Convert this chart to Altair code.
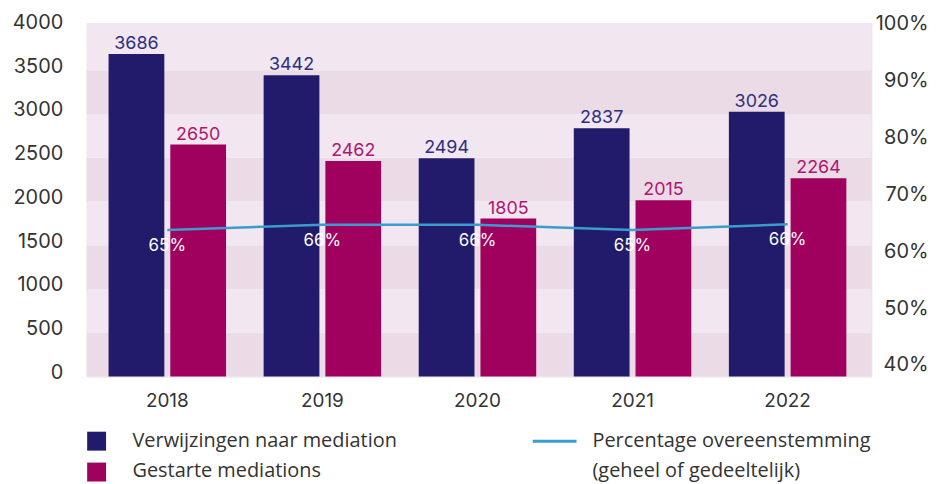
import altair as alt
import pandas as pd

# ---- data ----
years = ["2018", "2019", "2020", "2021", "2022"]
verwijzingen = [3686, 3442, 2494, 2837, 3026]
gestart = [2650, 2462, 1805, 2015, 2264]
pct = [64.4, 65.3, 65.3, 64.4, 65.4]
pct_labels = ["65%", "66%", "66%", "65%", "66%"]
series_names = ["Verwijzingen naar mediation", "Gestarte mediations"]
line_name = ["Percentage overeenstemming", "(geheel of gedeeltelijk)"]
band_lo = [0, 500, 1000, 1500, 2000, 2500, 3000, 3500]
band_hi = [500, 1000, 1500, 2000, 2500, 3000, 3500, 4040]
band_shade = ["d", "l", "d", "l", "d", "l", "d", "l"]
left_ticks = [0, 500, 1000, 1500, 2000, 2500, 3000, 3500, 4000]
right_ticks = [40, 50, 60, 70, 80, 90, 100]

NAVY = "#221b6b"
MAGENTA = "#a0005e"
NAVY_TXT = "#2d2f7f"
MAG_TXT = "#b0166e"
LINE = "#3a9ccf"
FONT = "Inter"
LFONT = "Open Sans"
TXT = "#333333"

W, H = 788, 355

bars_df = pd.DataFrame({
    "year": years * 2,
    "series": [series_names[0]] * 5 + [series_names[1]] * 5,
    "value": verwijzingen + gestart,
})
line_df = pd.DataFrame({"year": years, "pct": pct, "label": pct_labels})
bands_df = pd.DataFrame({"lo": band_lo, "hi": band_hi, "shade": band_shade})

xscale = alt.Scale(domain=years, range=[22, 763], paddingInner=0.2424, paddingOuter=0)
xaxis = alt.Axis(title=None, domain=False, ticks=False, labelFontSize=19, labelFont=FONT,
                 labelColor=TXT, labelPadding=15, labelAngle=0)
yscale = alt.Scale(domain=[0, 4040], nice=False, zero=True)
yaxis = alt.Axis(title=None, values=left_ticks, format="d", domain=False, ticks=False, grid=False,
                 labelFontSize=20, labelFont=FONT, labelColor=TXT, labelPadding=24,
                 labelOffset=-4)
y2scale = alt.Scale(domain=[38.69, 100.73], nice=False, zero=False)
y2axis = alt.Axis(title=None, orient="right", values=right_ticks, domain=False, ticks=False,
                  grid=False, labelFontSize=20, labelFont=FONT, labelColor=TXT,
                  labelAlign="right", labelPadding=57, labelOffset=-4,
                  labelExpr="datum.value + '%'")
color_scale = alt.Scale(domain=series_names, range=[NAVY, MAGENTA])
txt_color_scale = alt.Scale(domain=series_names, range=[NAVY_TXT, MAG_TXT])
offscale = alt.Scale(domain=series_names, paddingInner=0.0968, paddingOuter=0)

bands = alt.Chart(bands_df).mark_rect().encode(
    x=alt.value(0), x2=alt.value(W),
    y=alt.Y("lo:Q", scale=yscale, axis=yaxis),
    y2="hi:Q",
    color=alt.Color("shade:N", scale=alt.Scale(domain=["d", "l"], range=["#ebdbe7", "#f2e6f0"]),
                    legend=None),
)

bars = alt.Chart(bars_df).mark_bar().encode(
    x=alt.X("year:N", scale=xscale, axis=xaxis, sort=years),
    xOffset=alt.XOffset("series:N", scale=offscale, sort=series_names),
    y=alt.Y("value:Q", scale=yscale, axis=yaxis),
    fill=alt.Fill("series:N", scale=color_scale, legend=None),
)

bar_labels = alt.Chart(bars_df).mark_text(baseline="alphabetic", dy=-5, fontSize=18, font=FONT).encode(
    x=alt.X("year:N", scale=xscale, axis=xaxis, sort=years),
    xOffset=alt.XOffset("series:N", scale=offscale, sort=series_names),
    y=alt.Y("value:Q", scale=yscale, axis=yaxis),
    text="value:Q",
    stroke=alt.value(None),
    fill=alt.Fill("series:N", scale=txt_color_scale, legend=None),
)

left = alt.layer(bands, bars, bar_labels).resolve_scale(fill="independent", color="independent")

line = alt.Chart(line_df).mark_line(color=LINE, strokeWidth=2.5).encode(
    x=alt.X("year:N", scale=xscale, axis=xaxis, sort=years),
    y=alt.Y("pct:Q", scale=y2scale, axis=y2axis),
)
line_labels = alt.Chart(line_df).mark_text(color="white", fontSize=17, font=FONT, dy=16,
                                           baseline="middle").encode(
    x=alt.X("year:N", scale=xscale, axis=xaxis, sort=years),
    y=alt.Y("pct:Q", scale=y2scale, axis=y2axis),
    text="label:N",
)
right = alt.layer(line, line_labels)

# ---- manual legend ----
one = pd.DataFrame({"k": [0]})
leg_sq1 = alt.Chart(one).mark_square(size=361, opacity=1, color=NAVY).encode(
    x=alt.value(10), y=alt.value(420))
leg_sq2 = alt.Chart(one).mark_square(size=361, opacity=1, color=MAGENTA).encode(
    x=alt.value(10), y=alt.value(451))
leg_t1 = alt.Chart(one).mark_text(align="left", baseline="middle", fontSize=20, font=LFONT,
                                  color=TXT).encode(
    x=alt.value(46), y=alt.value(420), text=alt.value(series_names[0]))
leg_t2 = alt.Chart(one).mark_text(align="left", baseline="middle", fontSize=20, font=LFONT,
                                  color=TXT).encode(
    x=alt.value(46), y=alt.value(450), text=alt.value(series_names[1]))
leg_line = alt.Chart(one).mark_rule(color=LINE, strokeWidth=3).encode(
    x=alt.value(448), x2=alt.value(492), y=alt.value(420))
leg_t3 = alt.Chart(one).mark_text(align="left", baseline="middle", fontSize=20, font=LFONT,
                                  color=TXT).encode(
    x=alt.value(508), y=alt.value(420), text=alt.value(line_name[0]))
leg_t4 = alt.Chart(one).mark_text(align="left", baseline="middle", fontSize=20, font=LFONT,
                                  color=TXT).encode(
    x=alt.value(508), y=alt.value(450), text=alt.value(line_name[1]))
legend = alt.layer(leg_sq1, leg_sq2, leg_t1, leg_t2, leg_line, leg_t3, leg_t4)

chart = alt.layer(left, right, legend).resolve_scale(y="independent").properties(
    width=W, height=H,
    autosize=alt.AutoSizeParams(type="none"),
    padding={"left": 79, "top": 14, "right": 59, "bottom": 115},
).configure_view(stroke=None).configure(background="white")

chart.save("out.html", embed_options={"renderer": "svg", "actions": False})
